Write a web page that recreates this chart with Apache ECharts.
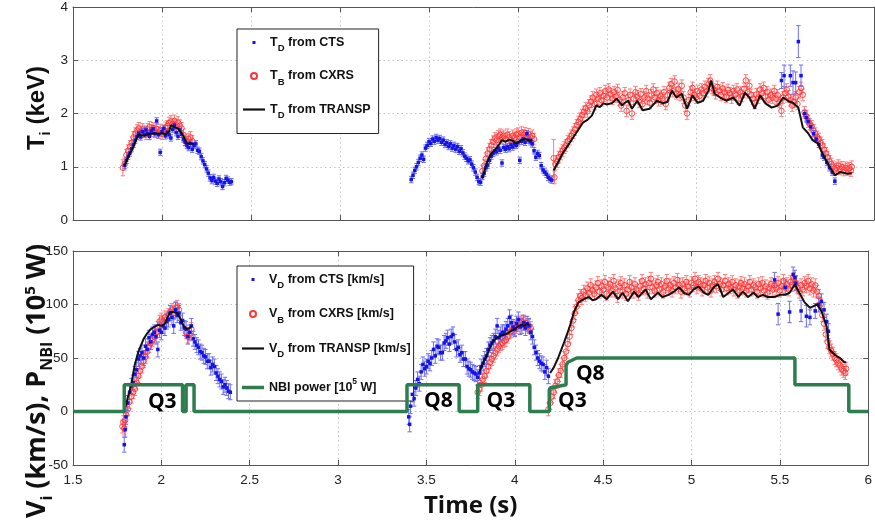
<!DOCTYPE html>
<html><head><meta charset="utf-8">
<script src="https://cdn.jsdelivr.net/npm/echarts@6/dist/echarts.min.js"></script>
<style>html,body{margin:0;padding:0;background:#fff}#c{width:875px;height:529px}</style>
</head><body><div id="c"></div>
<script>
// ---------------- DATA ----------------
const X_MIN = 1.5, X_MAX = 6, X_STEP = 0.5;
const T_MIN = 0, T_MAX = 4, T_STEP = 1;
const V_MIN = -50, V_MAX = 150, V_STEP = 50;

// Top panel: ion temperature (keV)  [time, value, (optional error)]
const ERR_CTS_T = 0.06, ERR_CXRS_T = 0.11;
const ctsT = [
 [1.79,1.03],[1.80,1.12],[1.81,1.20],[1.82,1.26],[1.83,1.34],[1.84,1.42],[1.85,1.50],[1.86,1.57],[1.87,1.63],[1.88,1.56],
 [1.89,1.66],[1.90,1.61],[1.91,1.69],[1.92,1.62],[1.93,1.57],[1.94,1.67],[1.95,1.71],[1.96,1.62],[1.97,1.86],[1.98,1.60],
 [1.99,1.27],[2.00,1.66],[2.01,1.72],[2.02,1.58],[2.03,1.65],[2.04,1.60],[2.05,1.54],[2.06,1.70],[2.07,1.78],[2.08,1.64],
 [2.09,1.57],[2.10,1.69],[2.11,1.61],[2.12,1.52],[2.13,1.46],[2.14,1.40],[2.15,1.36],[2.16,1.44],[2.17,1.33],[2.18,1.40],
 [2.19,1.43],[2.20,1.31],[2.21,1.29],[2.22,1.19],[2.23,1.11],[2.24,1.04],[2.25,0.96],[2.26,0.88],[2.27,0.79],[2.28,0.74],
 [2.29,0.80],[2.30,0.73],[2.31,0.69],[2.32,0.77],[2.33,0.72],[2.34,0.63],[2.35,0.70],[2.36,0.78],[2.37,0.75],[2.38,0.71],[2.39,0.72],
 [3.40,0.76],[3.41,0.84],[3.42,0.93],[3.43,1.00],[3.44,1.08],[3.45,1.16],[3.46,1.22],[3.47,1.14],[3.48,1.35],[3.49,1.40],
 [3.50,1.47],[3.51,1.44],[3.52,1.52],[3.53,1.48],[3.54,1.55],[3.55,1.50],[3.56,1.53],[3.57,1.46],[3.58,1.50],[3.59,1.42],
 [3.60,1.45],[3.61,1.38],[3.62,1.43],[3.63,1.35],[3.64,1.40],[3.65,1.33],[3.66,1.38],[3.67,1.29],[3.68,1.34],[3.69,1.26],
 [3.70,1.20],[3.71,1.16],[3.72,1.11],[3.73,1.13],[3.74,1.05],[3.75,0.98],[3.76,0.90],[3.77,0.80],[3.78,0.72],
 [3.79,0.71],[3.80,0.82],[3.81,0.88],[3.82,0.98],[3.83,1.03],[3.84,1.12],[3.85,1.20],[3.86,1.25],[3.87,1.30],[3.88,1.28],
 [3.89,1.35],[3.90,1.31],[3.91,1.07],[3.92,1.36],[3.93,1.33],[3.94,1.38],[3.95,1.34],[3.96,1.41],[3.97,1.37],[3.98,1.43],
 [3.99,1.40],[4.00,1.45],[4.01,1.12],[4.02,1.48],[4.03,1.52],[4.04,1.46],[4.05,1.62],[4.06,1.50],[4.07,1.47],[4.08,1.43],
 [4.09,1.30],[4.10,1.18],[4.11,1.25],[4.12,1.21],[4.13,1.02],[4.14,0.94],[4.15,0.90],[4.16,0.86],[4.17,0.80],[4.18,0.77],[4.19,0.75],
 [5.48,2.62,0.15],[5.495,2.71,0.2],[5.53,2.71,0.2],[5.545,2.58,0.22],[5.56,2.58,0.2],[5.575,3.35,0.3],[5.59,2.71,0.2],
 [5.61,2.00],[5.62,1.92],[5.63,1.85],[5.645,1.75],[5.66,1.62],[5.675,1.52],[5.69,1.42],[5.71,1.22],[5.72,1.18],[5.735,1.08],
 [5.75,0.98],[5.765,0.90],[5.78,0.73]
];
const cxrsT = [
 [1.78,0.98,0.15],[1.79,1.05],[1.80,1.22],[1.81,1.30],[1.82,1.38],[1.83,1.45],[1.84,1.55],[1.85,1.62],[1.86,1.68],[1.87,1.72],
 [1.88,1.65],[1.89,1.70],[1.90,1.66],[1.91,1.62],[1.92,1.70],[1.93,1.74],[1.94,1.68],[1.95,1.72],[1.96,1.66],[1.97,1.71],
 [1.98,1.64],[1.99,1.69],[2.00,1.62],[2.01,1.67],[2.02,1.73],[2.03,1.76],[2.04,1.82],[2.05,1.85],[2.06,1.80],[2.07,1.86],
 [2.08,1.78],[2.09,1.83],[2.10,1.77],[2.11,1.72],[2.12,1.60],[2.13,1.50],[2.14,1.46],[2.15,1.52],[2.16,1.55],[2.17,1.48],
 [3.80,0.92],[3.81,1.02],[3.82,1.15],[3.83,1.25],[3.84,1.33],[3.85,1.40],[3.86,1.47],[3.87,1.53],[3.88,1.50],[3.89,1.57],
 [3.90,1.60],[3.91,1.55],[3.92,1.58],[3.93,1.52],[3.94,1.60],[3.95,1.55],[3.96,1.50],[3.97,1.58],[3.98,1.54],[3.99,1.60],
 [4.00,1.62],[4.01,1.56],[4.02,1.64],[4.03,1.59],[4.04,1.63],[4.05,1.57],[4.06,1.61],[4.07,1.55],[4.08,1.58],[4.09,1.52],
 [4.20,1.16,0.35],[4.205,0.80,0.12],[4.21,1.05],[4.22,1.10],[4.23,1.18],[4.24,1.24],[4.25,1.30],[4.26,1.36],[4.27,1.40],[4.28,1.48],
 [4.29,1.52],[4.30,1.58],[4.31,1.64],[4.32,1.70],[4.33,1.78],[4.34,1.84],[4.35,1.90],[4.36,1.97],[4.37,2.03],[4.38,2.10],
 [4.39,2.04],[4.40,2.15],[4.41,2.22],[4.42,2.30],[4.43,2.18],[4.44,2.35],[4.45,2.28],[4.46,2.38],[4.47,2.25],[4.48,2.33],
 [4.49,2.42],[4.50,2.30],[4.51,2.45],[4.52,2.36],[4.53,2.28],[4.54,2.40],[4.55,2.32],[4.56,2.44],[4.57,2.26],[4.58,2.15],
 [4.59,2.30],[4.60,2.38],[4.61,2.05],[4.62,2.25],[4.63,2.35],[4.64,2.00],[4.65,2.28],[4.66,2.40],[4.67,2.32],[4.68,2.22],
 [4.69,2.36],[4.70,2.18],[4.71,2.30],[4.72,2.42],[4.73,2.28],[4.74,2.20],[4.75,2.34],[4.76,2.45],[4.77,2.30],[4.78,2.38],
 [4.79,2.25],[4.80,2.33],[4.81,2.28],[4.82,2.40],[4.83,2.18],[4.84,2.35],[4.85,2.48],[4.86,2.55],[4.87,2.42],[4.88,2.60],
 [4.89,2.38],[4.90,2.46],[4.91,2.35],[4.92,2.52],[4.93,2.30],[4.94,2.15],[4.95,2.00],[4.96,2.25],[4.97,2.40],[4.98,2.48],
 [4.99,2.35],[5.00,2.30],[5.01,2.42],[5.02,2.33],[5.03,2.45],[5.04,2.38],[5.05,2.50],[5.06,2.42],[5.07,2.55],[5.08,2.62],
 [5.09,2.48],[5.10,2.45],[5.11,2.38],[5.12,2.50],[5.13,2.43],[5.14,2.35],[5.15,2.47],[5.16,2.40],[5.17,2.32],[5.18,2.44],
 [5.19,2.38],[5.20,2.30],[5.21,2.42],[5.22,2.36],[5.23,2.45],[5.24,2.28],[5.25,2.40],[5.26,2.33],[5.27,2.46],[5.28,2.62],
 [5.29,2.40],[5.30,2.52],[5.31,2.35],[5.32,2.28],[5.33,2.20],[5.34,2.36],[5.35,2.30],[5.36,2.45],[5.37,2.38],[5.38,2.48],
 [5.39,2.32],[5.40,2.40],[5.41,2.26],[5.42,2.35],[5.43,2.30],[5.44,2.42],[5.45,2.28],[5.46,2.34],[5.47,2.22],[5.48,2.05],
 [5.49,2.30],[5.50,2.38],[5.51,2.45],[5.52,2.32],[5.53,2.25],[5.54,2.15],[5.55,2.22],[5.56,2.30],[5.57,2.18],[5.58,2.40],
 [5.59,2.48],[5.60,2.35],[5.61,2.02],[5.62,1.95],[5.63,1.85],[5.64,1.80],[5.65,1.76],[5.66,1.68],[5.67,1.62],[5.68,1.56],
 [5.69,1.52],[5.70,1.45],[5.71,1.40],[5.72,1.32],[5.73,1.25],[5.74,1.18],[5.75,1.10],[5.76,1.05],[5.77,1.00],[5.78,0.95],
 [5.79,0.98],[5.80,1.02],[5.81,0.96],[5.82,0.99],[5.83,0.94],[5.84,0.98],[5.85,0.95],[5.86,0.97],[5.87,0.93],[5.875,1.00]
];
// TRANSP (null = gap)
const transpT = [
 [1.79,1.02],[1.80,1.10],[1.82,1.25],[1.84,1.38],[1.86,1.55],[1.87,1.60],[1.88,1.57],[1.90,1.58],[1.92,1.61],[1.94,1.62],
 [1.96,1.63],[1.98,1.62],[2.00,1.63],[2.02,1.61],[2.03,1.59],[2.04,1.66],[2.05,1.78],[2.06,1.79],[2.07,1.74],[2.09,1.72],
 [2.10,1.71],[2.12,1.58],[2.14,1.44],[2.15,1.41],[2.17,1.43],[2.18,1.43], null,
 [3.80,0.78],[3.82,1.02],[3.83,1.12],[3.85,1.25],[3.87,1.31],[3.89,1.40],[3.91,1.50],[3.93,1.47],[3.95,1.51],[3.97,1.49],
 [3.99,1.44],[4.00,1.46],[4.02,1.50],[4.04,1.52],[4.05,1.53],[4.07,1.49],[4.08,1.51], null,
 [4.20,0.93],[4.22,1.05],[4.25,1.25],[4.28,1.40],[4.31,1.55],[4.34,1.70],[4.365,1.83],[4.39,1.88],[4.415,1.96],[4.44,2.15],
 [4.46,2.12],[4.48,2.19],[4.50,2.17],[4.53,2.20],[4.555,2.28],[4.585,2.15],[4.60,2.20],[4.62,2.24],[4.64,2.09],[4.67,2.24],
 [4.70,2.06],[4.74,2.09],[4.78,2.24],[4.815,2.19],[4.84,2.22],[4.865,2.43],[4.89,2.30],[4.92,2.37],[4.95,2.09],[4.98,2.34],
 [5.01,2.20],[5.04,2.24],[5.07,2.43],[5.085,2.62],[5.105,2.37],[5.135,2.30],[5.17,2.24],[5.21,2.30],[5.245,2.15],[5.275,2.39],
 [5.30,2.30],[5.33,2.09],[5.36,2.34],[5.39,2.19],[5.425,2.11],[5.46,2.15],[5.49,2.30],[5.515,2.24],[5.545,2.20],[5.575,2.11],
 [5.60,1.74],[5.63,1.63],[5.655,1.50],[5.685,1.44],[5.71,1.25],[5.75,1.00],[5.78,0.84],[5.81,0.90],[5.85,0.87],[5.875,0.88]
];

// Bottom panel: rotation velocity (km/s) and NBI power (1e5 W)
const ERR_CTS_V = 7, ERR_CXRS_V = 6;
const ctsV = [
 [1.79,-31],[1.795,-17],[1.80,-5],[1.81,8],[1.82,18],[1.83,24],[1.84,27],[1.85,35],[1.86,39],[1.87,49],
 [1.88,52],[1.89,55],[1.90,50],[1.91,61],[1.92,58],[1.93,69],[1.94,65],[1.95,72],[1.96,74],[1.97,70],
 [1.98,58],[1.99,76],[2.00,74],[2.01,80],[2.02,78],[2.03,84],[2.04,86],[2.05,92],[2.06,88],[2.07,80],
 [2.08,95],[2.09,90],[2.10,92],[2.11,83],[2.12,85],[2.13,78],[2.14,77],[2.15,70],[2.16,74],[2.17,80],
 [2.18,68],[2.19,65],[2.20,62],[2.21,60],[2.22,56],[2.23,55],[2.24,52],[2.25,51],[2.26,47],[2.27,47],
 [2.28,41],[2.29,44],[2.30,42],[2.31,36],[2.32,33],[2.33,30],[2.34,28],[2.35,23],[2.36,25],[2.37,22],[2.38,19],[2.39,18],
 [3.40,-5],[3.405,-12],[3.41,5],[3.42,16],[3.43,12],[3.44,22],[3.45,30],[3.46,26],[3.47,37],[3.48,44],
 [3.49,40],[3.50,42],[3.51,47],[3.52,45],[3.53,50],[3.54,58],[3.55,52],[3.56,61],[3.57,60],[3.58,55],
 [3.59,55],[3.60,64],[3.61,66],[3.62,69],[3.63,63],[3.64,70],[3.65,72],[3.66,65],[3.67,58],[3.68,60],
 [3.69,53],[3.70,55],[3.71,49],[3.72,49],[3.73,42],[3.74,40],[3.75,39],[3.76,37],[3.77,36],[3.78,35],[3.79,32],
 [3.80,36],[3.81,42],[3.82,45],[3.83,49],[3.84,52],[3.85,58],[3.86,62],[3.87,64],[3.88,66],[3.89,70],
 [3.90,80],[3.91,69],[3.92,72],[3.93,74],[3.94,74],[3.95,77],[3.96,80],[3.97,88],[3.98,83],[3.99,79],
 [4.00,77],[4.01,82],[4.02,86],[4.03,79],[4.04,80],[4.05,83],[4.06,78],[4.07,82],[4.08,80],[4.09,74],
 [4.10,70],[4.11,60],[4.12,55],[4.13,50],[4.14,47],[4.15,45],[4.16,44],[4.17,37],[4.18,41],[4.19,33],
 [5.47,123],[5.49,91,10],[5.53,116],[5.555,93,10],[5.575,128],[5.585,125],[5.59,120],[5.62,94,10],[5.65,89,10],[5.67,88],
 [5.70,94],[5.72,100],[5.735,103],[5.75,95],[5.765,84],[5.775,75]
];
const cxrsV = [
 [1.78,-14],[1.785,-10],[1.79,-16],[1.795,-8],[1.80,-3],[1.81,2],[1.82,9],[1.83,14],[1.84,18],[1.85,21],
 [1.86,27],[1.87,33],[1.88,38],[1.89,42],[1.90,47],[1.91,51],[1.92,56],[1.93,61],[1.94,64],[1.95,67],
 [1.96,70],[1.97,74],[1.98,78],[1.99,84],[2.00,86],[2.01,84],[2.02,88],[2.03,86],[2.04,90],[2.05,93],
 [2.06,95],[2.07,92],[2.08,97],[2.09,98],[2.10,95],[2.14,74],[2.15,70],[2.16,72],[2.17,77],
 [3.79,18],[3.80,21],[3.81,25],[3.82,30],[3.83,33],[3.84,38],[3.85,42],[3.86,46],[3.87,49],[3.88,52],
 [3.89,55],[3.90,58],[3.91,61],[3.92,63],[3.93,64],[3.94,66],[3.95,67],[3.96,70],[3.97,74],[3.98,75],
 [3.99,77],[4.00,77],[4.01,79],[4.02,81],[4.03,83],[4.04,84],[4.05,82],[4.06,83],[4.07,81],[4.08,80],[4.09,78],
 [4.19,2],[4.20,8],[4.21,14],[4.22,18],[4.23,24],[4.24,28],[4.25,34],[4.26,38],[4.27,44],[4.28,50],
 [4.29,56],[4.30,63],[4.31,70],[4.32,78],[4.33,85],[4.34,92],[4.35,98],[4.36,104],[4.37,108],[4.38,106],
 [4.39,112],[4.40,109],[4.41,115],[4.42,111],[4.43,118],[4.44,113],[4.45,110],[4.46,116],[4.47,120],[4.48,112],
 [4.49,117],[4.50,114],[4.51,121],[4.52,110],[4.53,116],[4.54,119],[4.55,113],[4.56,122],[4.57,115],[4.58,108],
 [4.59,117],[4.60,120],[4.61,112],[4.62,118],[4.63,110],[4.64,114],[4.65,121],[4.66,116],[4.67,112],[4.68,119],
 [4.69,113],[4.70,110],[4.71,117],[4.72,122],[4.73,115],[4.74,119],[4.75,112],[4.76,120],[4.77,124],[4.78,116],
 [4.79,113],[4.80,118],[4.81,121],[4.82,114],[4.83,119],[4.84,112],[4.85,117],[4.86,122],[4.87,115],[4.88,118],
 [4.89,113],[4.90,120],[4.91,116],[4.92,123],[4.93,118],[4.94,112],[4.95,119],[4.96,115],[4.97,121],[4.98,117],
 [4.99,113],[5.00,120],[5.01,118],[5.02,124],[5.03,116],[5.04,121],[5.05,119],[5.06,114],[5.07,118],[5.08,122],
 [5.09,116],[5.10,120],[5.11,113],[5.12,118],[5.13,121],[5.14,117],[5.15,124],[5.16,119],[5.17,114],[5.18,118],
 [5.19,122],[5.20,115],[5.21,119],[5.22,116],[5.23,121],[5.24,114],[5.25,118],[5.26,112],[5.27,117],[5.28,120],
 [5.29,115],[5.30,119],[5.31,113],[5.32,117],[5.33,121],[5.34,114],[5.35,118],[5.36,116],[5.37,112],[5.38,119],
 [5.39,115],[5.40,120],[5.41,113],[5.42,117],[5.43,111],[5.44,116],[5.45,119],[5.46,114],[5.47,118],[5.48,115],
 [5.49,120],[5.50,113],[5.51,117],[5.52,122],[5.53,116],[5.54,119],[5.55,114],[5.56,121],[5.57,118],[5.58,124],
 [5.59,120],[5.60,116],[5.61,112],[5.62,118],[5.63,114],[5.64,120],[5.65,117],[5.66,122],[5.67,115],[5.68,119],
 [5.69,113],[5.70,118],[5.71,112],[5.72,108],[5.73,100],[5.74,90],[5.75,82],[5.76,72],[5.77,65],[5.78,60],
 [5.79,57],[5.80,54],[5.81,50],[5.82,48],[5.83,45],[5.84,43],[5.85,40],[5.86,38],[5.87,36],[5.875,40]
];
const transpV = [
 [1.79,0],[1.80,6],[1.81,13],[1.82,19],[1.83,25],[1.84,35],[1.85,44],[1.86,50],[1.87,56],[1.88,60],
 [1.89,64],[1.90,68],[1.92,73],[1.94,77],[1.96,79],[1.98,81],[2.00,80],[2.01,79],[2.02,82],[2.035,88],
 [2.05,93],[2.06,94],[2.07,93],[2.08,94],[2.09,92],[2.10,89],[2.11,86],[2.12,82],[2.13,79],[2.145,77],[2.16,78],[2.17,80], null,
 [3.80,37],[3.81,41],[3.825,47],[3.84,52],[3.855,58],[3.87,63],[3.88,67],[3.895,68],[3.91,70],[3.925,71],
 [3.945,72],[3.96,73],[3.97,74],[3.985,76],[4.00,77],[4.02,80],[4.04,81],[4.055,80],[4.07,82],[4.08,81], null,
 [4.20,36],[4.22,41],[4.245,50],[4.28,65],[4.31,79],[4.335,93],[4.36,102],[4.39,105],[4.42,107],[4.44,104],
 [4.46,105],[4.49,109],[4.52,105],[4.555,112],[4.585,105],[4.61,111],[4.64,103],[4.675,112],[4.70,107],[4.74,114],
 [4.77,105],[4.81,111],[4.835,107],[4.87,109],[4.90,112],[4.93,116],[4.955,111],[4.985,109],[5.01,114],[5.04,117],
 [5.07,111],[5.095,109],[5.125,116],[5.15,119],[5.18,107],[5.21,111],[5.235,114],[5.265,107],[5.29,112],[5.32,107],
 [5.35,111],[5.375,107],[5.405,109],[5.43,107],[5.47,107],[5.50,109],[5.53,109],[5.555,111],[5.585,119],[5.61,111],
 [5.64,102],[5.67,97],[5.685,98],[5.71,100],[5.735,94],[5.765,79],[5.78,58],[5.81,53],[5.84,50],[5.865,46],[5.875,46]
];
const nbiPower = [
 [1.5,0],[1.79,0],[1.79,25],[2.12,25],[2.12,0],[2.14,0],[2.14,25],[2.185,25],[2.185,0],[3.39,0],
 [3.39,25],[3.685,25],[3.685,0],[3.79,0],[3.79,25],[4.085,25],[4.085,0],[4.195,0],[4.195,20],[4.20,22],
 [4.29,25],[4.29,43],[4.30,46],[4.35,50],[5.585,50],[5.585,25],[5.89,25],[5.89,0],[6,0]
];
// NBI source annotations
const qText = ['Q3','Q8','Q3','Q3','Q8'];
const qTime = [2.005, 3.567, 3.921, 4.326, 4.427];
const qVal  = [9, 10, 10, 10, 35];

// ---------------- STYLE ----------------
const ARIAL = "'Liberation Sans',Arial,sans-serif";
const CAL = "'Open Sans','Lato',sans-serif";
const BLUE = '#1414e6', BLUE_E = '#6f6ff2', RED = '#ff3636', RED_E = '#ff7d7d', GREEN = '#2e7d4f';

const NAMES = {
  ctsT:'TD from CTS', cxrsT:'TB from CXRS', trT:'TD from TRANSP',
  ctsV:'VD from CTS', cxrsV:'VB from CXRS', trV:'VD from TRANSP', nbi:'NBI power'
};
const LEG_RICH_TEXT = {};
LEG_RICH_TEXT[NAMES.ctsT] = '{m|T}{s|D}{m| from CTS}';
LEG_RICH_TEXT[NAMES.cxrsT] = '{m|T}{s|B}{m| from CXRS}';
LEG_RICH_TEXT[NAMES.trT] = '{m|T}{s|D}{m| from TRANSP}';
LEG_RICH_TEXT[NAMES.ctsV] = '{m|V}{s|D}{m| from CTS [km/s]}';
LEG_RICH_TEXT[NAMES.cxrsV] = '{m|V}{s|B}{m| from CXRS [km/s]}';
LEG_RICH_TEXT[NAMES.trV] = '{m|V}{s|D}{m| from TRANSP [km/s]}';
LEG_RICH_TEXT[NAMES.nbi] = '{m|NBI power [10}{p|5}{m| W]}';

const legRich = {
  m:{fontFamily:ARIAL, fontWeight:'bold', fontSize:12.5, color:'#111', lineHeight:22},
  s:{fontFamily:ARIAL, fontWeight:'bold', fontSize:9.5, color:'#111', lineHeight:22, verticalAlign:'bottom'},
  p:{fontFamily:ARIAL, fontWeight:'bold', fontSize:8.5, color:'#111', lineHeight:22, verticalAlign:'top', padding:[1,0,0,0]}
};

function gaps(arr){ return arr.map(d => d === null ? ['-','-'] : d); }

function errSeries(name, data, defErr, color, xi, yi){
  return {
    type:'custom', name:name, xAxisIndex:xi, yAxisIndex:yi, silent:true, z:2,
    data: data.map(d => [d[0], d[1], d.length > 2 ? d[2] : defErr]),
    encode:{x:0, y:1},
    renderItem: function(params, api){
      const x = api.value(0), y = api.value(1), e = api.value(2);
      const lo = api.coord([x, y - e]), hi = api.coord([x, y + e]);
      const w = 2.2, st = {stroke:color, lineWidth:1};
      return {type:'group', children:[
        {type:'line', shape:{x1:lo[0], y1:lo[1], x2:hi[0], y2:hi[1]}, style:st},
        {type:'line', shape:{x1:lo[0]-w, y1:lo[1], x2:lo[0]+w, y2:lo[1]}, style:st},
        {type:'line', shape:{x1:hi[0]-w, y1:hi[1], x2:hi[0]+w, y2:hi[1]}, style:st}
      ]};
    }
  };
}

const tickLabel = {fontFamily:ARIAL, fontSize:13.5, color:'#222'};
const dotted = {show:true, lineStyle:{color:'#c4c4c4', type:[1.5,3], width:1}};
const frameLine = {show:true, onZero:false, lineStyle:{color:'#555', width:1}};
const tick = {show:true, inside:true, length:5, lineStyle:{color:'#555'}};

function xAx(grid, pos, labels, split){
  return {type:'value', gridIndex:grid, position:pos, min:X_MIN, max:X_MAX, interval:X_STEP,
    axisLine:frameLine, axisTick:tick, splitLine: split ? dotted : {show:false},
    axisLabel: labels ? Object.assign({show:true, margin:8, showMaxLabel:true, showMinLabel:true}, tickLabel) : {show:false}};
}
function yAx(grid, pos, min, max, step, labels, split){
  return {type:'value', gridIndex:grid, position:pos, min:min, max:max, interval:step,
    axisLine:frameLine, axisTick:tick, splitLine: split ? dotted : {show:false},
    axisLabel: labels ? Object.assign({show:true, margin:5}, tickLabel) : {show:false}};
}

const LINE_ICON_BLACK = 'path://M0 0h22v2.2h-22z';
const LINE_ICON_GREEN = 'path://M0 0h22v3.5h-22z';
const DOT_ICON = 'path://M0 0M6 6M1.5 1.5h3v3h-3z';

const PLOT_LEFT = 73, PLOT_W = 801;
const option = {
  animation:false,
  backgroundColor:'#fff',
  grid:[
    {left:PLOT_LEFT, top:6, width:PLOT_W, height:214, containLabel:false},
    {left:PLOT_LEFT, top:251, width:PLOT_W, height:214, containLabel:false}
  ],
  xAxis:[
    xAx(0,'bottom',false,true),
    Object.assign(xAx(1,'bottom',true,true), {name:'Time (s)', nameLocation:'middle', nameGap:29,
      nameTextStyle:{fontFamily:CAL, fontWeight:'bold', fontSize:24, color:'#111'}}),
    xAx(0,'top',false,false),
    xAx(1,'top',false,false)
  ],
  yAxis:[
    yAx(0,'left',T_MIN,T_MAX,T_STEP,true,true),
    yAx(1,'left',V_MIN,V_MAX,V_STEP,true,true),
    yAx(0,'right',T_MIN,T_MAX,T_STEP,false,false),
    yAx(1,'right',V_MIN,V_MAX,V_STEP,false,false)
  ],
  legend:[
    {orient:'vertical', left:237, top:29, itemWidth:22, itemHeight:6, itemGap:16,
     padding:[7,8,13,6], backgroundColor:'#fff', borderColor:'#222', borderWidth:1, selectedMode:false,
     data:[
       {name:NAMES.ctsT, icon:DOT_ICON},
       {name:NAMES.cxrsT, icon:'circle'},
       {name:NAMES.trT, icon:LINE_ICON_BLACK}
     ],
     formatter: n => LEG_RICH_TEXT[n], textStyle:{rich:legRich}},
    {orient:'vertical', left:237, top:266, itemWidth:22, itemHeight:6, itemGap:17,
     padding:[7,3,7,5], backgroundColor:'#fff', borderColor:'#222', borderWidth:1, selectedMode:false,
     data:[
       {name:NAMES.ctsV, icon:DOT_ICON},
       {name:NAMES.cxrsV, icon:'circle'},
       {name:NAMES.trV, icon:LINE_ICON_BLACK},
       {name:NAMES.nbi, icon:LINE_ICON_GREEN}
     ],
     formatter: n => LEG_RICH_TEXT[n], textStyle:{rich:legRich}}
  ],
  graphic:[
    {type:'text', x:37, y:108, rotation:Math.PI/2, silent:true,
     style:{text:'{m|T}{s|i}{m| (keV)}', align:'center', verticalAlign:'middle',
       rich:{m:{fontFamily:ARIAL, fontWeight:'bold', fontSize:24, fill:'#111', lineHeight:32},
             s:{fontFamily:ARIAL, fontWeight:'bold', fontSize:15, fill:'#111', lineHeight:32, verticalAlign:'bottom'}}}},
    {type:'text', x:37, y:381, rotation:Math.PI/2, silent:true,
     style:{text:'{m|V}{s|i}{m| (km/s), P}{s|NBI}{m| (10}{p|5}{m| W)}', align:'center', verticalAlign:'middle',
       rich:{m:{fontFamily:CAL, fontWeight:'bold', fontSize:27, fill:'#111', lineHeight:36},
             s:{fontFamily:CAL, fontWeight:'bold', fontSize:16, fill:'#111', lineHeight:36, verticalAlign:'bottom'},
             p:{fontFamily:CAL, fontWeight:'bold', fontSize:15, fill:'#111', lineHeight:36, verticalAlign:'top', padding:[4,0,0,0]}}}}
  ],
  series:[
    // top panel
    errSeries('eCxrsT', cxrsT, ERR_CXRS_T, RED_E, 0, 0),
    {type:'scatter', name:NAMES.cxrsT, xAxisIndex:0, yAxisIndex:0, z:3, silent:true,
     data:cxrsT.map(d => [d[0], d[1]]), symbol:'circle', symbolSize:5.5,
     itemStyle:{color:'rgba(255,255,255,0)', borderColor:RED, borderWidth:0.9, opacity:1}},
    errSeries('eCtsT', ctsT, ERR_CTS_T, BLUE_E, 0, 0),
    {type:'scatter', name:NAMES.ctsT, xAxisIndex:0, yAxisIndex:0, z:4, silent:true,
     data:ctsT.map(d => [d[0], d[1]]), symbol:'rect', symbolSize:3.5,
     itemStyle:{color:BLUE, opacity:1}},
    {type:'line', name:NAMES.trT, xAxisIndex:0, yAxisIndex:0, z:5, silent:true,
     data:gaps(transpT), showSymbol:false, symbol:'none', connectNulls:false,
     lineStyle:{color:'#111', width:2}, itemStyle:{color:'#111'}},
    // bottom panel
    errSeries('eCxrsV', cxrsV, ERR_CXRS_V, RED_E, 1, 1),
    {type:'scatter', name:NAMES.cxrsV, xAxisIndex:1, yAxisIndex:1, z:3, silent:true,
     data:cxrsV.map(d => [d[0], d[1]]), symbol:'circle', symbolSize:5.5,
     itemStyle:{color:'rgba(255,255,255,0)', borderColor:RED, borderWidth:0.9, opacity:1}},
    errSeries('eCtsV', ctsV, ERR_CTS_V, BLUE_E, 1, 1),
    {type:'scatter', name:NAMES.ctsV, xAxisIndex:1, yAxisIndex:1, z:4, silent:true,
     data:ctsV.map(d => [d[0], d[1]]), symbol:'rect', symbolSize:3.5,
     itemStyle:{color:BLUE, opacity:1}},
    {type:'line', name:NAMES.trV, xAxisIndex:1, yAxisIndex:1, z:5, silent:true,
     data:gaps(transpV), showSymbol:false, symbol:'none', connectNulls:false,
     lineStyle:{color:'#111', width:2}, itemStyle:{color:'#111'}},
    {type:'line', name:NAMES.nbi, xAxisIndex:1, yAxisIndex:1, z:6, silent:true,
     data:nbiPower, showSymbol:false, symbol:'none',
     lineStyle:{color:GREEN, width:3.5}, itemStyle:{color:GREEN}},
    {type:'scatter', name:'annotations', xAxisIndex:1, yAxisIndex:1, z:7, silent:true,
     symbolSize:0, itemStyle:{opacity:1},
     data:qText.map((t, i) => ({name:t, value:[qTime[i], qVal[i]]})),
     label:{show:true, position:'inside', formatter:p => p.name, textBorderWidth:0,
       fontFamily:CAL, fontWeight:'bold', fontSize:21, color:'#000'}}
  ]
};
const chart = echarts.init(document.getElementById('c'), null, {renderer:'canvas'});
chart.setOption(option);
</script>
</body></html>
